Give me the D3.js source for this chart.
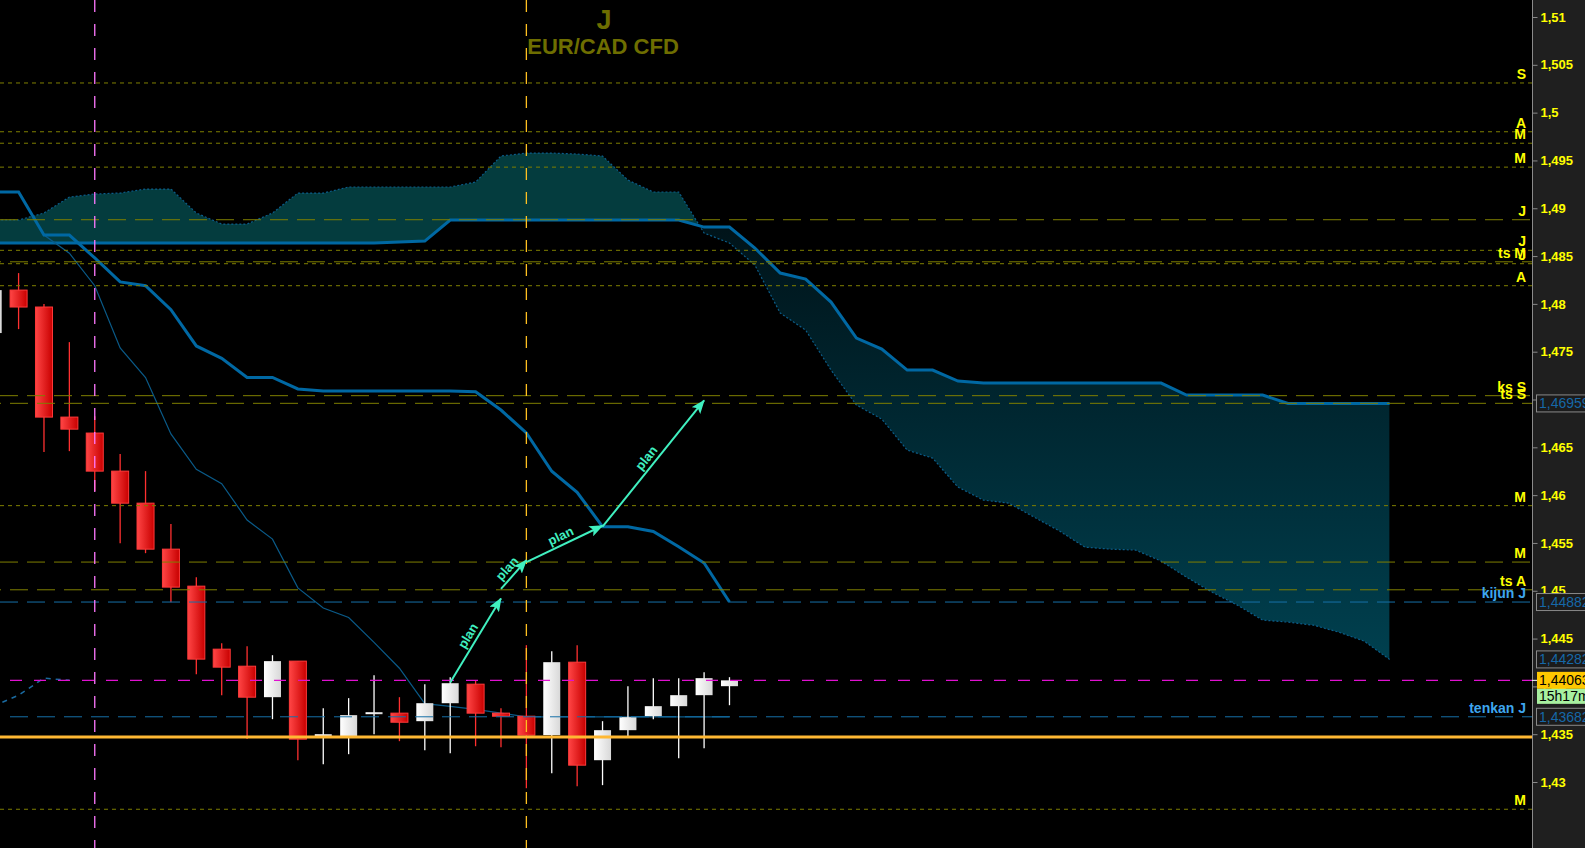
<!DOCTYPE html>
<html>
<head>
<meta charset="utf-8">
<script src="https://cdn.jsdelivr.net/npm/d3@7"></script>
<style>
html,body{margin:0;padding:0;background:#000;overflow:hidden;}
svg{display:block;font-family:"Liberation Sans",Arial,sans-serif;}
</style>
</head>
<body>
<div id="chart"></div>
<script>
// chart size, right axis starts at axisX
var W = 1585, H = 848, axisX = 1532;

// candles (index 0..29)
var opens  = [1.47695,1.48144,1.47967,1.46816,1.46649,1.46251,1.45916,1.45435,1.45048,1.44389,
              1.44211,1.43887,1.44264,1.43480,1.43479,1.43710,1.43720,1.43636,1.43824,1.44023,
              1.43720,1.43688,1.43490,1.44253,1.43228,1.43542,1.43688,1.43793,1.43908,1.44002];
var highs  = [1.48150,1.48322,1.47998,1.47600,1.46826,1.46429,1.46251,1.45697,1.45142,1.44452,
              1.44420,1.44326,1.44264,1.43772,1.43877,1.44117,1.43887,1.44023,1.44096,1.44065,
              1.43772,1.44431,1.44368,1.44431,1.43636,1.44002,1.44086,1.44086,1.44149,1.44096];
var lows   = [1.47690,1.47736,1.46450,1.46460,1.46042,1.45498,1.45393,1.44881,1.44128,1.43908,
              1.43450,1.43657,1.43228,1.43186,1.43291,1.43500,1.43427,1.43333,1.43301,1.43374,
              1.43364,1.42935,1.43092,1.42956,1.42967,1.43469,1.43657,1.43249,1.43354,1.43803];
var closes = [1.48144,1.47967,1.46816,1.46690,1.46251,1.45916,1.45435,1.45038,1.44285,1.44201,
              1.43887,1.44264,1.43448,1.43500,1.43699,1.43730,1.43625,1.43824,1.44033,1.43720,
              1.43688,1.43490,1.44253,1.43176,1.43542,1.43678,1.43793,1.43908,1.44086,1.44063];

// ichimoku lines
var tenkan = [1.4917,1.4917,1.4872,1.4853,1.4819,1.4754,1.4723,1.4664,1.4627,1.4612,
              1.4574,1.4554,1.4503,1.4482,1.4472,1.4446,1.4419,1.4382,1.4379,1.4376,
              1.4372,1.43682,1.43682,1.43682,1.43682,1.43682,1.43682,1.43682,1.43682,1.43682];
var kijun  = [1.4917,1.4917,1.4872,1.4872,1.4848,1.4823,1.4819,1.4794,1.4756,1.4743,
              1.4723,1.4723,1.4711,1.4709,1.4709,1.4709,1.4709,1.4709,1.4709,1.4708,
              1.4689,1.4665,1.4625,1.4603,1.4567,1.4567,1.4562,1.4546,1.4529,1.44882];
// cloud (index 0..55, 26 bars ahead)
var spanA  = [1.48877,1.48877,1.48950,1.49117,1.49149,1.49159,1.49201,1.49201,1.48950,1.48835,
              1.48835,1.48950,1.49159,1.49159,1.49222,1.49222,1.49222,1.49222,1.49222,1.49274,
              1.49546,1.49577,1.49577,1.49567,1.49546,1.49295,1.49170,1.49170,1.48741,1.48636,
              1.48406,1.47904,1.47726,1.47308,1.46942,1.46795,1.46471,1.46387,1.46084,1.45948,
              1.45916,1.45770,1.45624,1.45456,1.45435,1.45425,1.45310,1.45142,1.44986,1.44850,
              1.44693,1.44672,1.44640,1.44567,1.44473,1.44282];
var spanB  = [1.48636,1.48636,1.48636,1.48636,1.48636,1.48636,1.48636,1.48636,1.48636,1.48636,
              1.48636,1.48636,1.48636,1.48636,1.48636,1.48636,1.48647,1.48657,1.48877,1.48877,
              1.48877,1.48877,1.48877,1.48877,1.48877,1.48877,1.48877,1.48877,1.48803,1.48803,
              1.48584,1.48322,1.48259,1.48019,1.47642,1.47527,1.47308,1.47308,1.47193,1.47172,
              1.47172,1.47172,1.47172,1.47172,1.47172,1.47172,1.47172,1.47046,1.47046,1.47046,
              1.47046,1.46959,1.46959,1.46959,1.46959,1.46959];

// horizontal levels
var levelVals   = [1.5031,1.4980,1.4968,1.4943,1.4888,1.4856,1.4844,1.4842,1.4819,1.4704,1.4696,1.4589,1.4530,1.4501,1.42715];
var levelLabels = ["S","A","M","M","J","J","ts M","J","A","ks S","ts S","M","M","ts A","M"];
var levelLong   = [false,false,false,false,true,false,true,false,false,true,true,false,true,true,false];
var kijunLevel = 1.44882, tenkanLevel = 1.43682, priceLevel = 1.44063, supportLevel = 1.4347;

// vertical markers (bar index)
var vLineIdx = [4, 21];
var vLineCol = ["#ff78ff", "#ffc020"];

// plan arrows [bar index, price]
var planFrom = [[18,1.4404],[20,1.4502],[21,1.4530],[24,1.4567]];
var planTo   = [[20,1.4492],[21,1.4532],[24,1.4568],[28,1.4699]];

// right axis
var yTicks = [1.43,1.435,1.44,1.445,1.45,1.455,1.46,1.465,1.47,1.475,1.48,1.485,1.49,1.495,1.5,1.505,1.51];
var blueTags = [1.46959,1.44882,1.44282,1.43682];
var timerText = "15h17m";

var svg = d3.select('#chart').append('svg').attr('width', W).attr('height', H);
svg.append('rect').attr('width', W).attr('height', H).attr('fill', '#000');

var x = d3.scaleLinear().domain([0, 55]).range([-6.8, 1389.6]);
var y = d3.scaleLinear().domain([1.43, 1.51]).range([782, 17]);

var defs = svg.append('defs');
var gBear = defs.append('linearGradient').attr('id','bearFill')
    .attr('gradientUnits','userSpaceOnUse').attr('x1',0).attr('y1',230).attr('x2',0).attr('y2',660);
gBear.append('stop').attr('offset','0').attr('stop-color','#00141a');
gBear.append('stop').attr('offset','1').attr('stop-color','#00404f');
var gRed = defs.append('linearGradient').attr('id','redBody');
gRed.append('stop').attr('offset','0').attr('stop-color','#ff4545');
gRed.append('stop').attr('offset','1').attr('stop-color','#c80000');
var gWhite = defs.append('linearGradient').attr('id','whiteBody');
gWhite.append('stop').attr('offset','0').attr('stop-color','#ffffff');
gWhite.append('stop').attr('offset','1').attr('stop-color','#d8d8d8');

defs.append('marker').attr('id','arrow').attr('viewBox','0 0 14 11')
    .attr('refX',13).attr('refY',5.5).attr('markerWidth',14).attr('markerHeight',11)
    .attr('markerUnits','userSpaceOnUse').attr('orient','auto')
    .append('path').attr('d','M0,0L14,5.5L0,11L3,5.5Z').attr('fill','#40f0c0');

var plot = svg.append('g').attr('class','plot');

// cloud
var cloud = spanA.map(function(a, i){ return {i:i, a:a, b:spanB[i]}; });
var between = d3.area().x(function(d){return x(d.i);}).y0(function(d){return y(d.a);}).y1(function(d){return y(d.b);});
var aboveA = d3.area().x(function(d){return x(d.i);}).y0(0).y1(function(d){return y(d.a);});
var belowA = d3.area().x(function(d){return x(d.i);}).y0(H).y1(function(d){return y(d.a);});
defs.append('clipPath').attr('id','clipBear').append('path').attr('d', aboveA(cloud));
defs.append('clipPath').attr('id','clipBull').append('path').attr('d', belowA(cloud));
plot.append('path').attr('d', between(cloud)).attr('fill','#043c3e').attr('clip-path','url(#clipBull)');
plot.append('path').attr('d', between(cloud)).attr('fill','url(#bearFill)').attr('clip-path','url(#clipBear)');

var line = d3.line().x(function(d){return x(d.i);}).y(function(d){return y(d.v);});
function pts(arr){ return arr.map(function(v, i){ return {i:i, v:v}; }); }

plot.append('path').attr('d', line(pts(spanA))).attr('fill','none')
    .attr('stroke','#0b5d8a').attr('stroke-width',1.2).attr('stroke-dasharray','2,2');
plot.append('path').attr('d', line(pts(spanB))).attr('fill','none')
    .attr('stroke','#0068a3').attr('stroke-width',3);
plot.append('path').attr('d', line(pts(tenkan))).attr('fill','none')
    .attr('stroke','#0a5a88').attr('stroke-width',1.2);
plot.append('path').attr('d', line(pts(kijun))).attr('fill','none')
    .attr('stroke','#0068a3').attr('stroke-width',3);
// lagging span: last closes shifted 26 bars back
var chikou = closes.slice(26).map(function(v, i){ return {i:i, v:v}; });
plot.append('path').attr('d', line(chikou)).attr('fill','none')
    .attr('stroke','#1a6aa0').attr('stroke-width',1.5).attr('stroke-dasharray','5,5');

// candles
var candles = opens.map(function(o, i){ return {i:i, o:o, h:highs[i], l:lows[i], c:closes[i]}; });
var cg = plot.append('g').selectAll('g').data(candles).enter().append('g');
cg.append('line')
    .attr('x1', function(d){return x(d.i);}).attr('x2', function(d){return x(d.i);})
    .attr('y1', function(d){return y(d.h);}).attr('y2', function(d){return y(d.l);})
    .attr('stroke', function(d){return d.c >= d.o ? '#ffffff' : '#ff3030';}).attr('stroke-width',1.3);
cg.append('rect')
    .attr('x', function(d){return x(d.i) - 8.5;}).attr('width', 17)
    .attr('y', function(d){return y(Math.max(d.o, d.c));})
    .attr('height', function(d){return Math.max(2, Math.abs(y(d.o) - y(d.c)));})
    .attr('fill', function(d){return d.c >= d.o ? 'url(#whiteBody)' : 'url(#redBody)';})
    .attr('stroke', function(d){return d.c >= d.o ? 'none' : '#ff3a3a';}).attr('stroke-width',1);

// horizontal levels
var lv = plot.append('g');
levelVals.forEach(function(v, k){
    lv.append('line').attr('x1',0).attr('x2',axisX).attr('y1',y(v)).attr('y2',y(v))
      .attr('stroke','#7f7f00').attr('stroke-width',1)
      .attr('stroke-dasharray', levelLong[k] ? '18,9' : '4,4')
      .attr('stroke-dashoffset', levelLabels[k].indexOf('ts') === 0 ? -10 : 0);
});
lv.append('line').attr('x1',0).attr('x2',axisX).attr('y1',y(kijunLevel)).attr('y2',y(kijunLevel))
  .attr('stroke','#1670a8').attr('stroke-dasharray','18,9');
lv.append('line').attr('x1',10).attr('x2',axisX).attr('y1',y(tenkanLevel)).attr('y2',y(tenkanLevel))
  .attr('stroke','#1670a8').attr('stroke-dasharray','18,9');
lv.append('line').attr('x1',10).attr('x2',axisX).attr('y1',y(priceLevel)).attr('y2',y(priceLevel))
  .attr('stroke','#e010d0').attr('stroke-width',1.3).attr('stroke-dasharray','12,12');
lv.append('line').attr('x1',0).attr('x2',axisX).attr('y1',y(supportLevel)).attr('y2',y(supportLevel))
  .attr('stroke','#ffb833').attr('stroke-width',3);

// vertical markers
vLineIdx.forEach(function(i, k){
    plot.append('line').attr('x1',x(i)).attr('x2',x(i)).attr('y1',0).attr('y2',H)
      .attr('stroke',vLineCol[k]).attr('stroke-width',1.3).attr('stroke-dasharray','12,12');
});

// plan arrows
planFrom.forEach(function(p, k){
    var x1 = x(p[0]), y1 = y(p[1]), x2 = x(planTo[k][0]), y2 = y(planTo[k][1]);
    plot.append('line').attr('x1',x1).attr('y1',y1).attr('x2',x2).attr('y2',y2)
      .attr('stroke','#40f0c0').attr('stroke-width',2).attr('marker-end','url(#arrow)');
    var dx = x2 - x1, dy = y2 - y1, len = Math.sqrt(dx*dx + dy*dy);
    var mx = (x1 + x2)/2 + dy/len*9, my = (y1 + y2)/2 - dx/len*9;
    var ang = Math.atan2(dy, dx)*180/Math.PI;
    plot.append('text').attr('transform','translate('+mx+','+my+') rotate('+ang+')')
      .attr('text-anchor','middle').attr('dy','0.35em')
      .attr('fill','#40f0c0').style('font-size','13px').style('font-weight','bold').text('plan');
});

// level labels
var lab = svg.append('g').style('font-size','14px').style('font-weight','bold').attr('text-anchor','end');
levelVals.forEach(function(v, k){
    lab.append('text').attr('x',1526).attr('y',y(v) - 4).attr('fill','#ffff00').text(levelLabels[k]);
});
lab.append('text').attr('x',1526).attr('y',y(kijunLevel) - 4).attr('fill','#3ea6ee').text('kijun J');
lab.append('text').attr('x',1526).attr('y',y(tenkanLevel) - 4).attr('fill','#3ea6ee').text('tenkan J');

// title
svg.append('text').attr('x',604).attr('y',29).attr('text-anchor','middle')
   .attr('fill','#6e6e00').style('font-size','27px').style('font-weight','bold').text('J');
svg.append('text').attr('x',603).attr('y',54).attr('text-anchor','middle')
   .attr('fill','#6e6e00').style('font-size','22px').style('font-weight','bold').text('EUR/CAD CFD');

// right axis
svg.append('rect').attr('x',axisX).attr('y',0).attr('width',W - axisX).attr('height',H).attr('fill','#1f1f1f');
svg.append('line').attr('x1',axisX + 0.5).attr('x2',axisX + 0.5).attr('y1',0).attr('y2',H).attr('stroke','#8a8a8a');
var axis = d3.axisRight(y).tickValues(yTicks).tickSize(5).tickPadding(3).tickSizeOuter(0)
    .tickFormat(function(d){ return String(+d.toFixed(3)).replace('.', ','); });
var gAxis = svg.append('g').attr('transform','translate('+(axisX + 0.5)+',0)').call(axis);
gAxis.select('.domain').remove();
gAxis.selectAll('.tick line').attr('stroke','#8a8a8a');
gAxis.selectAll('.tick text').attr('fill','#ffff00')
    .style('font-family','"Liberation Sans",Arial,sans-serif').style('font-size','13px').style('font-weight','bold');

var tags = svg.append('g').style('font-size','14px');
blueTags.forEach(function(v){
    tags.append('rect').attr('x',1536.5).attr('y',y(v) - 8.5).attr('width',60).attr('height',17)
      .attr('fill','#1b1b1b').attr('stroke','#8a8a8a');
    tags.append('text').attr('x',1539).attr('y',y(v) + 5).attr('fill','#1668a8')
      .text(String(v).replace('.', ','));
});
tags.append('line').attr('x1',axisX).attr('x2',1537).attr('y1',y(priceLevel)).attr('y2',y(priceLevel)).attr('stroke','#ffffff');
tags.append('rect').attr('x',1537).attr('y',y(priceLevel) - 8.5).attr('width',60).attr('height',17).attr('fill','#ffc800');
tags.append('text').attr('x',1539).attr('y',y(priceLevel) + 5).attr('fill','#000').text(String(priceLevel).replace('.', ','));
tags.append('rect').attr('x',1537).attr('y',y(priceLevel) + 8.5).attr('width',60).attr('height',15).attr('fill','#a8f0a0');
tags.append('text').attr('x',1539).attr('y',y(priceLevel) + 21).attr('fill','#000').text(timerText);
</script>
</body>
</html>
